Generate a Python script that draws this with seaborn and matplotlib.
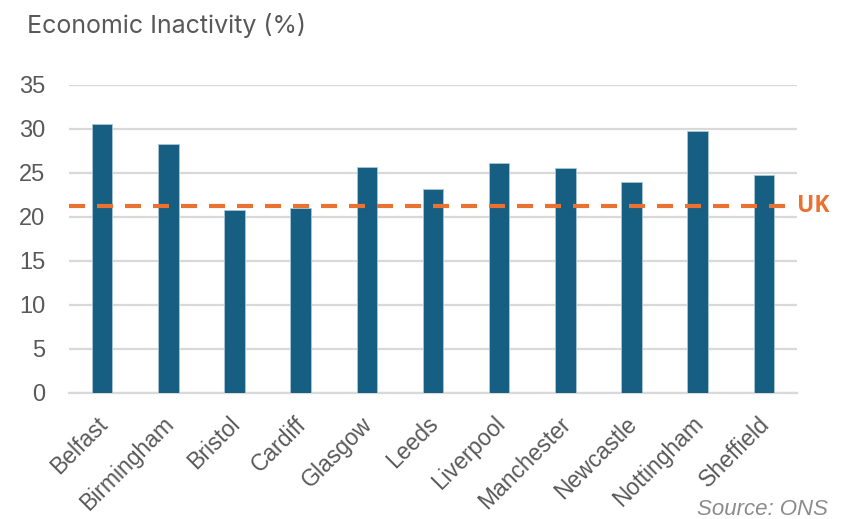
import matplotlib
matplotlib.use("Agg")
import matplotlib.pyplot as plt
import matplotlib.transforms as mtransforms
import seaborn as sns
import pandas as pd

cities = ["Belfast", "Birmingham", "Bristol", "Cardiff", "Glasgow", "Leeds",
          "Liverpool", "Manchester", "Newcastle", "Nottingham", "Sheffield"]
inactivity = [30.5, 28.3, 20.8, 21.0, 25.6, 23.1, 26.1, 25.5, 24.0, 29.7, 24.7]
uk_value = 21.25
y_ticks = [0, 5, 10, 15, 20, 25, 30, 35]

sns.set_theme(style="white")
plt.rcParams['font.family'] = ['Liberation Sans', 'DejaVu Sans']

df = pd.DataFrame({"city": cities, "value": inactivity})

fig = plt.figure(figsize=(8.45, 5.19), dpi=100)
ax = fig.add_axes([0.0817, 0.2434, 0.8615, 0.5932])

sns.barplot(data=df, x="city", y="value", color="#175F82", width=0.31,
            saturation=1, ax=ax, edgecolor="#a9c6d6", linewidth=0.6, zorder=3)

ax.set_ylim(0, 35)
ax.set_xlim(-0.5, len(cities) - 0.5)
ax.set_yticks(y_ticks)
ax.set_yticklabels([str(t) for t in y_ticks])
ax.yaxis.grid(True, color="#d9d9d9", linewidth=1.6, zorder=0)
ax.set_axisbelow(True)
for s in ["top", "right", "left"]:
    ax.spines[s].set_visible(False)
ax.spines["bottom"].set_color("#d9d9d9")
ax.spines["bottom"].set_linewidth(1.6)
ax.tick_params(axis="y", length=0, pad=17, labelsize=17, labelcolor="#595959")
ax.tick_params(axis="x", length=0, pad=7, labelsize=16.5, labelcolor="#595959")
ax.set_xlabel("")
ax.set_ylabel("")
offset = mtransforms.ScaledTranslation(-6 / 100, -10 / 100, fig.dpi_scale_trans)
for lab in ax.get_xticklabels():
    lab.set_rotation(45)
    lab.set_ha("right")
    lab.set_rotation_mode("anchor")
    lab.set_transform(lab.get_transform() + offset)

ax.axhline(uk_value, xmin=0, xmax=0.986, color="#E97132", linewidth=3,
           dashes=(3.84, 2.88), zorder=4)
ax.text(1.0, uk_value, "UK", transform=ax.get_yaxis_transform(),
        color="#E97132", fontsize=16.5, fontweight="bold", va="center", ha="left",
        family=["Open Sans", "DejaVu Sans"])

fig.text(0.032, 0.951, "Economic Inactivity (%)", fontsize=18, color="#595959",
         va="center", ha="left", family=["Inter", "DejaVu Sans"])
fig.text(0.98, 0.007, "Source: ONS", fontsize=16, color="#8c8c8c",
         style="italic", va="baseline", ha="right")

fig.savefig("out.png", dpi=100)
